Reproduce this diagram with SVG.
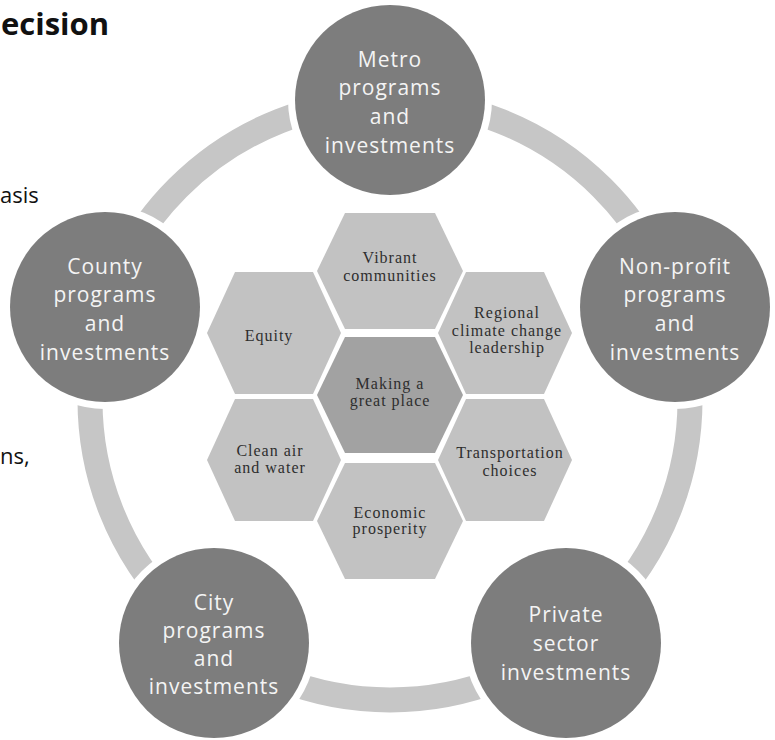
<svg xmlns="http://www.w3.org/2000/svg" width="775" height="740" viewBox="0 0 775 740">
<defs>
<style>
.bg{fill:#ffffff}
.ring{fill:none;stroke:#c6c6c6;stroke-width:25}
.halo{fill:#ffffff}
.disc{fill:#7d7d7d}
.ct{font-family:"Open Sans","Liberation Sans",sans-serif;font-size:21px;letter-spacing:1px;fill:#f4f4f4;text-anchor:middle}
.hexo{fill:#c2c2c2}
.hexc{fill:#a2a2a2}
.ht{font-family:"Liberation Serif","DejaVu Serif",serif;font-size:16px;letter-spacing:1px;fill:#2e2e2e;text-anchor:middle}
.side{font-family:"Open Sans","Liberation Sans",sans-serif;fill:#111111}
</style>
<path id="hexA" d="M-73,0 L-45,-58 L45,-58 L73,0 L45,58 L-45,58 Z"/>
<path id="hexB" d="M-67,0 L-39,-61 L39,-61 L67,0 L39,61 L-39,61 Z"/>
</defs>
<rect class="bg" x="0" y="0" width="775" height="740"/>

<g id="side-text">
<text class="side" x="1" y="35" font-size="31" font-weight="bold">ecision</text>
<text class="side" x="0" y="203" font-size="22">asis</text>
<text class="side" x="0" y="464" font-size="22">ns,</text>
</g>

<g id="connectors">
<circle class="ring" cx="390" cy="400" r="300"/>
</g>

<g id="metro">
<circle class="halo" cx="390" cy="100" r="102"/>
<circle class="disc" cx="390" cy="100" r="95"/>
<text class="ct" x="390" y="67">Metro</text>
<text class="ct" x="390" y="95">programs</text>
<text class="ct" x="390" y="124">and</text>
<text class="ct" x="390" y="153">investments</text>
</g>

<g id="nonprofit">
<circle class="halo" cx="675" cy="307" r="102"/>
<circle class="disc" cx="675" cy="307" r="95"/>
<text class="ct" x="675" y="274">Non-profit</text>
<text class="ct" x="675" y="302">programs</text>
<text class="ct" x="675" y="331">and</text>
<text class="ct" x="675" y="360">investments</text>
</g>

<g id="private">
<circle class="halo" cx="566" cy="643" r="102"/>
<circle class="disc" cx="566" cy="643" r="95"/>
<text class="ct" x="566" y="622">Private</text>
<text class="ct" x="566" y="651">sector</text>
<text class="ct" x="566" y="680">investments</text>
</g>

<g id="city">
<circle class="halo" cx="214" cy="643" r="102"/>
<circle class="disc" cx="214" cy="643" r="95"/>
<text class="ct" x="214" y="610">City</text>
<text class="ct" x="214" y="638">programs</text>
<text class="ct" x="214" y="666">and</text>
<text class="ct" x="214" y="694">investments</text>
</g>

<g id="county">
<circle class="halo" cx="105" cy="307" r="102"/>
<circle class="disc" cx="105" cy="307" r="95"/>
<text class="ct" x="105" y="274">County</text>
<text class="ct" x="105" y="302">programs</text>
<text class="ct" x="105" y="331">and</text>
<text class="ct" x="105" y="360">investments</text>
</g>

<g id="vibrant">
<use href="#hexA" class="hexo" x="390" y="271"/>
<text class="ht" x="390" y="263">Vibrant</text>
<text class="ht" x="390" y="281">communities</text>
</g>

<g id="regional">
<use href="#hexB" class="hexo" x="505" y="333"/>
<text class="ht" x="507" y="318">Regional</text>
<text class="ht" x="507" y="336">climate change</text>
<text class="ht" x="507" y="353">leadership</text>
</g>

<g id="transportation">
<use href="#hexB" class="hexo" x="505" y="460"/>
<text class="ht" x="510" y="458">Transportation</text>
<text class="ht" x="510" y="476">choices</text>
</g>

<g id="economic">
<use href="#hexA" class="hexo" x="390" y="521"/>
<text class="ht" x="390" y="518">Economic</text>
<text class="ht" x="390" y="534">prosperity</text>
</g>

<g id="clean">
<use href="#hexB" class="hexo" x="274" y="460"/>
<text class="ht" x="270" y="456">Clean air</text>
<text class="ht" x="270" y="473">and water</text>
</g>

<g id="equity">
<use href="#hexB" class="hexo" x="274" y="333"/>
<text class="ht" x="269" y="341">Equity</text>
</g>

<g id="center">
<use href="#hexA" class="hexc" x="390" y="395"/>
<text class="ht" x="390" y="389">Making a</text>
<text class="ht" x="390" y="406">great place</text>
</g>
</svg>
